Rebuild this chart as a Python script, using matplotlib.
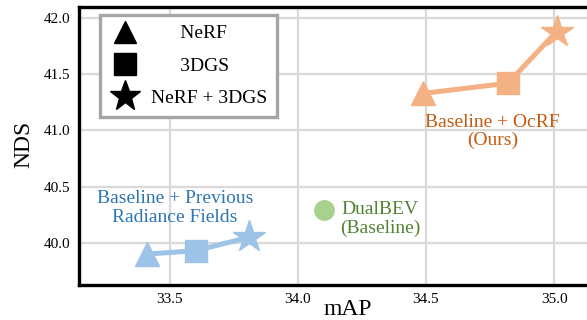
import matplotlib.pyplot as plt
from matplotlib.lines import Line2D

plt.rcParams['font.family'] = ['Liberation Serif', 'DejaVu Serif']

# mAP / NDS
prev_map = [33.41, 33.60, 33.81]
prev_nds = [39.90, 39.93, 40.05]

ours_map = [34.49, 34.82, 35.01]
ours_nds = [41.33, 41.42, 41.88]

base_map = [34.10]
base_nds = [40.29]

markers = ['^', 's', '*']
sizes = [17, 16, 24]
legend_labels = ['NeRF', '3DGS', 'NeRF + 3DGS']

blue, blue_txt = '#9dc3e6', '#2e75b6'
orange, orange_txt = '#f4b183', '#c55a11'
green, green_txt = '#a9d18e', '#548235'

fig = plt.figure(figsize=(5.87, 3.2), dpi=100)
ax = fig.add_axes([79 / 587, 35 / 320, 538 / 587, 278 / 320])

ax.plot(prev_map, prev_nds, color=blue, lw=3.6, zorder=3)
ax.plot(ours_map, ours_nds, color=orange, lw=3.6, zorder=3)
for i in range(3):
    ax.plot(prev_map[i], prev_nds[i], marker=markers[i], ms=sizes[i], color=blue,
            mec=blue, ls='none', zorder=4)
    ax.plot(ours_map[i], ours_nds[i], marker=markers[i], ms=sizes[i], color=orange,
            mec=orange, ls='none', zorder=4)
ax.plot(base_map, base_nds, 'o', ms=14, color=green, zorder=4)

ax.text(33.52, 40.31, 'Baseline + Previous\nRadiance Fields', color=blue_txt,
        fontsize=14, ha='center', va='center', linespacing=1.1)
ax.text(34.76, 40.99, 'Baseline + OcRF\n(Ours)', color=orange_txt,
        fontsize=14, ha='center', va='center', linespacing=1.1)
ax.text(34.32, 40.21, 'DualBEV\n(Baseline)', color=green_txt,
        fontsize=14, ha='center', va='center', linespacing=1.1)

ax.set_xlim(33.145, 35.246)
ax.set_ylim(39.625, 42.098)
ax.set_xticks([33.5, 34.0, 34.5, 35.0])
ax.set_yticks([40.0, 40.5, 41.0, 41.5, 42.0])
ax.xaxis.set_major_formatter(plt.FormatStrFormatter('%.1f'))
ax.yaxis.set_major_formatter(plt.FormatStrFormatter('%.1f'))
ax.tick_params(length=0, labelsize=11, pad=6)
ax.grid(color='#d9d9d9', lw=1.6)
ax.set_axisbelow(True)
for side in ['left', 'bottom', 'top', 'right']:
    ax.spines[side].set_linewidth(2.4)
ax.set_xlabel('mAP', fontsize=17, va='center')
ax.set_ylabel('NDS', fontsize=17, va='center')
ax.xaxis.set_label_coords(0.5, -0.088)
ax.yaxis.set_label_coords(-0.102, 0.507)

handles = [Line2D([], [], marker=m, ms=s * 0.95, color='black', ls='none')
           for m, s in zip(markers, sizes)]
pad_labels = ['      NeRF', '      3DGS', 'NeRF + 3DGS']
leg = ax.legend(handles, pad_labels, loc='upper left', bbox_to_anchor=(0.039, 0.971),
                borderaxespad=0, fontsize=14, frameon=True, fancybox=False,
                labelspacing=0.75, handletextpad=0.5, borderpad=0.5,
                handlelength=1.6)
leg.get_frame().set_edgecolor('#a6a6a6')
leg.get_frame().set_linewidth(2.4)
leg.get_frame().set_alpha(1)

fig.savefig('out.png', dpi=100)
